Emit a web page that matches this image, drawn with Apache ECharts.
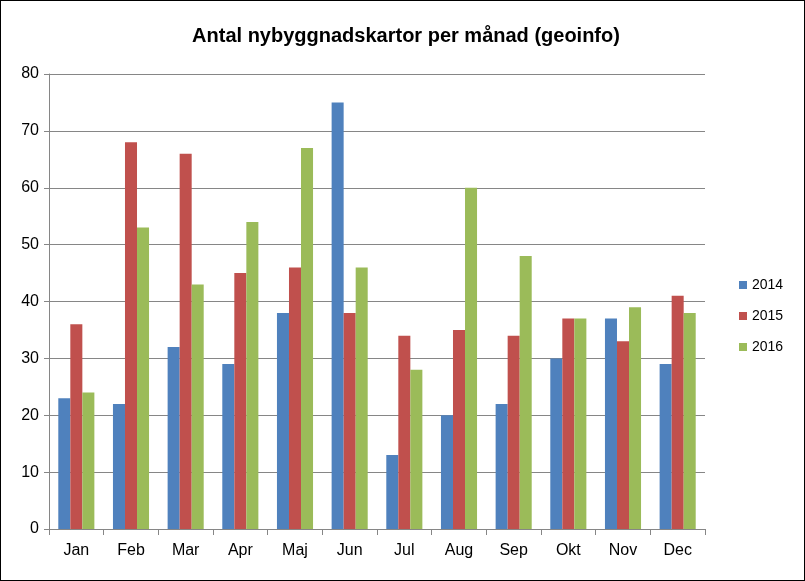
<!DOCTYPE html>
<html>
<head>
<meta charset="utf-8">
<script src="https://cdn.jsdelivr.net/npm/echarts@6/dist/echarts.min.js"></script>
<style>
html,body{margin:0;padding:0;background:#fff;}
#main{width:803px;height:579px;border:1px solid #000;}
</style>
</head>
<body>
<div id="main"></div>
<script>
var months = ['Jan','Feb','Mar','Apr','Maj','Jun','Jul','Aug','Sep','Okt','Nov','Dec'];
var y2014 = [23,22,32,29,38,75,13,20,22,30,37,29];
var y2015 = [36,68,66,45,46,38,34,35,34,37,33,41];
var y2016 = [24,53,43,54,67,46,28,60,48,37,39,38];

var myChart = echarts.init(document.getElementById('main'));
var font = 'Liberation Sans';
var option = {
    animation: false,
    title: {
        text: 'Antal nybyggnadskartor per månad (geoinfo)',
        left: 400, textAlign: 'center', top: 20,
        textStyle: {fontFamily: font, fontSize: 20, fontWeight: 'bold', color: '#000'}
    },
    legend: {
        orient: 'vertical', left: 733, top: 272, itemGap: 17,
        itemWidth: 8, itemHeight: 8, icon: 'rect',
        textStyle: {fontFamily: font, fontSize: 14, color: '#000'},
        data: ['2014','2015','2016']
    },
    grid: {left: 48, right: 99, top: 73, bottom: 51},
    xAxis: {
        type: 'category', data: months,
        axisLine: {lineStyle: {color: '#868686'}},
        axisTick: {show: true, lineStyle: {color: '#868686'}, length: 6},
        axisLabel: {fontFamily: font, fontSize: 16, color: '#000', margin: 14}
    },
    yAxis: {
        type: 'value', min: 0, max: 80, interval: 10,
        axisLine: {show: true, lineStyle: {color: '#868686'}},
        axisTick: {show: true, lineStyle: {color: '#868686'}},
        splitLine: {lineStyle: {color: '#868686'}},
        axisLabel: {fontFamily: font, fontSize: 16, color: '#000', margin: 10}
    },
    series: [
        {name: '2014', type: 'bar', data: y2014, barGap: 0, barCategoryGap: '34%', itemStyle: {color: '#4F81BD'}},
        {name: '2015', type: 'bar', data: y2015, itemStyle: {color: '#C0504D'}},
        {name: '2016', type: 'bar', data: y2016, itemStyle: {color: '#9BBB59'}}
    ]
};
myChart.setOption(option);
</script>
</body>
</html>
